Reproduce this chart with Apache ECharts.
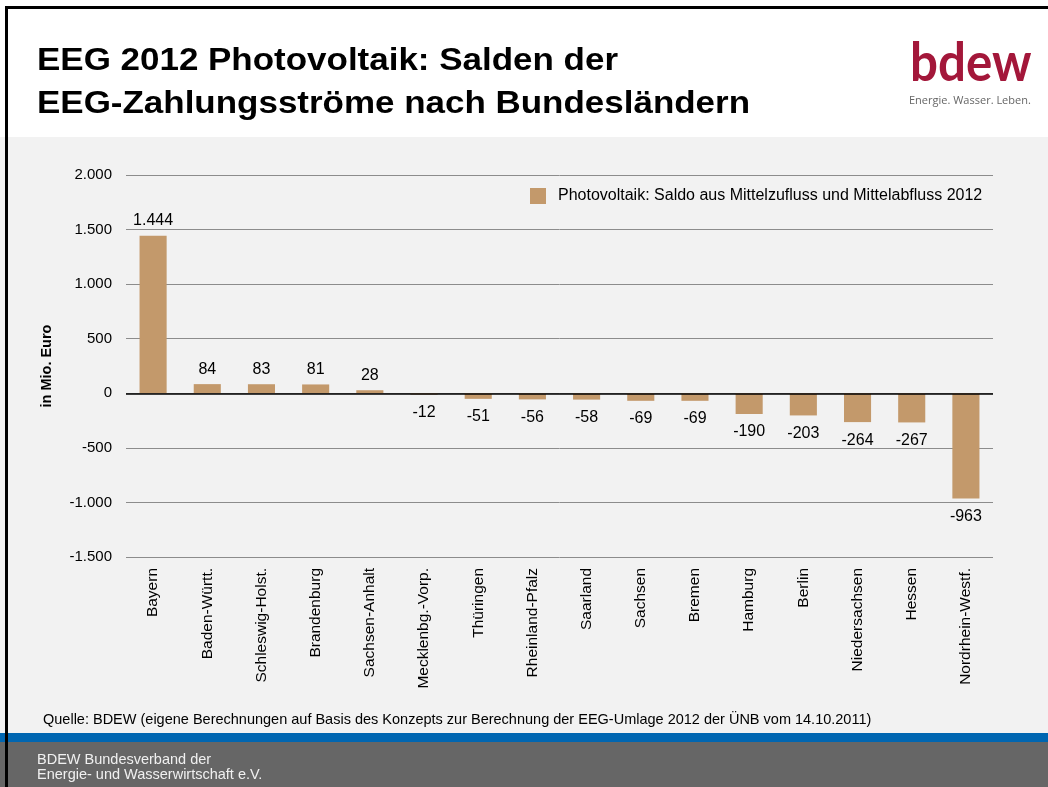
<!DOCTYPE html>
<html><head><meta charset="utf-8">
<script src="https://cdn.jsdelivr.net/npm/echarts@6/dist/echarts.min.js"></script>
<style>html,body{margin:0;padding:0;background:#fff}#c{width:1048px;height:787px}</style>
</head><body><div id="c"></div>
<script>
var categories = ['Bayern','Baden-Württ.','Schleswig-Holst.','Brandenburg','Sachsen-Anhalt','Mecklenbg.-Vorp.','Thüringen','Rheinland-Pfalz','Saarland','Sachsen','Bremen','Hamburg','Berlin','Niedersachsen','Hessen','Nordrhein-Westf.'];
var saldo = [1444, 84, 83, 81, 28, -12, -51, -56, -58, -69, -69, -190, -203, -264, -267, -963];
var seriesName = 'Photovoltaik: Saldo aus Mittelzufluss und Mittelabfluss 2012';
var yMin = -1500, yMax = 2000, yStep = 500;

function de(v){
  var s = Math.abs(v).toString().replace(/\B(?=(\d{3})+(?!\d))/g, '.');
  return (v < 0 ? '-' : '') + s;
}
var F = 'Liberation Sans, Arial, Helvetica, sans-serif';
var chart = echarts.init(document.getElementById('c'));
chart.setOption({
  backgroundColor: '#ffffff',
  animation: false,
  textStyle: {fontFamily: F},
  graphic: [
    {type:'rect', shape:{x:0,y:137,width:1048,height:597}, style:{fill:'#f2f2f2'}, z:-10, silent:true},
    {type:'rect', shape:{x:0,y:733,width:1048,height:9}, style:{fill:'#0066b1'}, z:-10},
    {type:'rect', shape:{x:0,y:742,width:1048,height:45}, style:{fill:'#666666'}, z:-10},
    {type:'rect', shape:{x:5,y:6,width:1043,height:3}, style:{fill:'#000'}, z:10},
    {type:'rect', shape:{x:5,y:6,width:3,height:781}, style:{fill:'#000'}, z:10},
    {type:'text', x:37, y:40, scaleX:1.11, style:{text:'EEG 2012 Photovoltaik: Salden der\nEEG-Zahlungsströme nach Bundesländern', font:'bold 31.5px '+F, fill:'#000', lineHeight:43}},
    {type:'text', x:910, y:37, scaleX:0.93, style:{text:'bdew', font:'bold 53px Lato, "Open Sans", sans-serif', fill:'#a3173a'}},
    {type:'text', left:909, top:95, style:{text:'Energie. Wasser. Leben.', font:'11px "Open Sans", Lato, sans-serif', fill:'#666'}},
    {type:'text', left:43, top:712, style:{text:'Quelle: BDEW (eigene Berechnungen auf Basis des Konzepts zur Berechnung der EEG-Umlage 2012 der ÜNB vom 14.10.2011)', font:'14.5px '+F, fill:'#000'}},
    {type:'text', left:37, top:752, style:{text:'BDEW Bundesverband der\nEnergie- und Wasserwirtschaft e.V.', font:'14.5px '+F, fill:'#f0f0f0', lineHeight:15}}
  ],
  legend: {
    data:[seriesName], left:530, top:188, padding:0, itemWidth:16, itemHeight:16,
    textStyle:{fontSize:16, color:'#000', fontFamily:F, padding:[2,0,0,7]}, icon:'rect'
  },
  grid: {left:126, right:55, top:175, bottom:230, containLabel:false, outerBoundsMode:'none'},
  xAxis: {
    type:'category', data:categories, position:'bottom',
    axisLine:{show:false, onZero:false}, axisTick:{show:false},
    axisLabel:{rotate:90, interval:0, fontSize:15.5, color:'#000', margin:11, fontFamily:F}
  },
  yAxis: {
    type:'value', min:yMin, max:yMax, interval:yStep,
    name:'in Mio. Euro', nameLocation:'middle', nameGap:72,
    nameTextStyle:{fontWeight:'bold', fontSize:14.5, color:'#000', fontFamily:F},
    axisLine:{show:false}, axisTick:{show:false},
    axisLabel:{formatter:de, fontSize:15, color:'#000', margin:14, fontFamily:F},
    splitLine:{lineStyle:{color:'#8c8c8c', width:1}}
  },
  series: [{
    name: seriesName, type:'bar', barWidth:'50%',
    data: saldo.map(function(v){
      return v < 0 ? {value:v, label:{position:'bottom', distance:10}} : {value:v};
    }),
    itemStyle:{color:'#c3996b'},
    label:{show:true, fontSize:16, color:'#000', fontFamily:F,
      position:'top', distance:7, formatter:function(p){return de(p.value);}},
    markLine:{silent:true, symbol:'none', label:{show:false},
      lineStyle:{color:'#000', type:'solid', width:1.5}, data:[{yAxis:0}]}
  }]
});
</script></body></html>
